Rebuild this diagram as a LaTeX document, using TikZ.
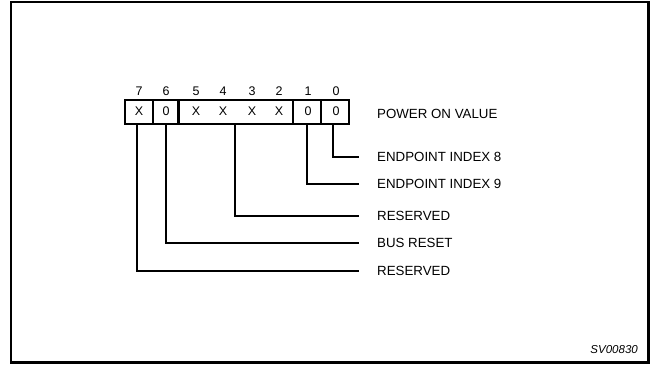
\documentclass[tikz,border=0pt]{standalone}
\usepackage{fontspec}
\setmainfont{Liberation Sans}

\begin{document}
\begin{tikzpicture}[x=1pt, y=-1pt, cell/.style={draw, line width=2.4pt, minimum height=23.5pt, inner sep=0pt, outer sep=0pt}, bitnum/.style={font=\fontsize{12.5}{14}\selectfont, inner sep=0pt}, field/.style={anchor=west, inner sep=0pt, font=\fontsize{13.3}{15}\selectfont}, lead/.style={line width=1.4pt}]
\useasboundingbox (0,0) rectangle (650,364);
\draw[line width=2.5pt] (11,2) rectangle (648.5,362.5);
% register cells
\node[cell, minimum width=28pt] (c7) at (139,112) {};
\node[cell, minimum width=26pt] (c6) at (166,112) {};
\node[cell, minimum width=115pt] (c52) at (235.5,112) {};
\node[cell, minimum width=28pt] (c1) at (307,112) {};
\node[cell, minimum width=28pt] (c0) at (335,112) {};
\foreach \b/\x/\v in {7/139/X, 6/166/0, 5/196/X, 4/223/X, 3/252/X, 2/279/X, 1/308/0, 0/336/0} {
  \node[bitnum] (n\b) at (\x,91.5) {\b};
  \node[bitnum] (v\b) at (\x,111) {\v};
}
\node[field] (pov) at (377,114) {POWER ON VALUE};
\node[field] (l0) at (377,157) {ENDPOINT INDEX 8};
\node[field] (l1) at (377,184) {ENDPOINT INDEX 9};
\node[field] (l52) at (377,216) {RESERVED};
\node[field] (l6) at (377,243) {BUS RESET};
\node[field] (l7) at (377,271) {RESERVED};
\draw[lead] ([xshift=-2pt]c0.south) |- ([xshift=-18pt]l0.west);
\draw[lead] (c1.south) |- ([xshift=-18pt]l1.west);
\draw[lead] ([xshift=-0.5pt]c52.south) |- ([xshift=-18pt]l52.west);
\draw[lead] (c6.south) |- ([xshift=-18pt]l6.west);
\draw[lead] ([xshift=-2pt]c7.south) |- ([xshift=-18pt]l7.west);
\node[anchor=east, inner sep=0pt, font=\itshape\fontsize{11.5}{13}\selectfont] (fig) at (638,350) {SV00830};
\end{tikzpicture}
\end{document}
